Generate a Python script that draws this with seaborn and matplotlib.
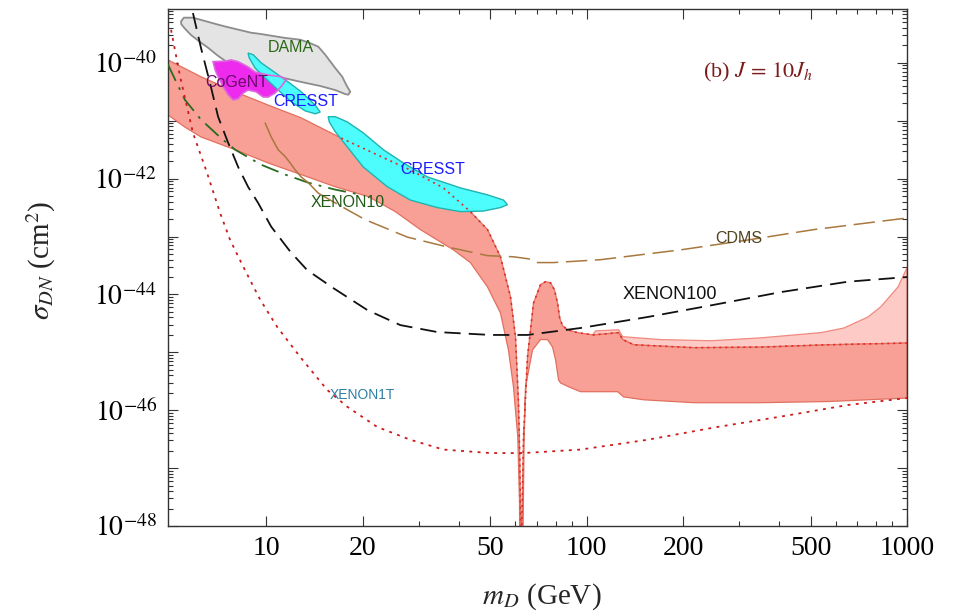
import numpy as np
import pandas as pd
import matplotlib
matplotlib.use("Agg")
import matplotlib.pyplot as plt
import seaborn as sns
from matplotlib.ticker import FixedLocator, FuncFormatter, LogLocator, NullFormatter

# Dark-matter mass m_D in GeV, cross sections stored as log10(sigma_DN / cm^2)

# Allowed band for J = 10 J_h (upper edge left -> right, lower edge right -> left)
band_upper_m = [4.94, 6.26, 8.00, 10.15, 12.86, 17.16, 22.23, 28.18, 35.73, 43.40,
                49.06, 53.86, 57.88, 60.00, 61.32, 61.90, 62.45, 63.56, 65.41, 68.29,
                71.83, 74.47, 77.2, 79.4, 81.19, 82.4, 84.1, 87.24, 93.73, 105.2,
                125.9, 129.6, 140.3, 216.0, 349.9, 566.4, 1000.0]
band_upper_lg = [-39.95, -40.24, -40.50, -40.73, -40.95, -41.30, -41.59, -41.85, -42.16, -42.57,
                 -42.88, -43.35, -44.04, -44.73, -45.87, -46.86, -48.6, -46.46, -45.08, -44.15,
                 -43.83, -43.78, -43.80, -43.92, -44.15, -44.40, -44.54, -44.61, -44.66, -44.70,
                 -44.66, -44.78, -44.87, -44.92, -44.91, -44.87, -44.84]
band_lower_m = [1000.0, 566.4, 349.9, 216.0, 150.7, 130.5, 125.0, 95.79, 89.13, 82.97,
                81.78, 80.03, 78.32, 75.55, 71.83, 67.80, 64.48, 63.8, 63.2, 61.9,
                61.76, 61.0, 59.15, 57.05, 53.86, 49.06, 43.40, 38.41, 34.22, 30.29,
                25.31, 20.84, 16.43, 12.86, 10.15, 8.00, 6.26, 5.58, 4.94]
band_lower_lg = [-45.79, -45.85, -45.87, -45.87, -45.82, -45.77, -45.68, -45.68, -45.61, -45.53,
                 -45.48, -45.13, -44.91, -44.78, -44.78, -44.96, -45.60, -46.60, -48.6, -48.6,
                 -47.60, -46.46, -45.60, -44.96, -44.32, -43.87, -43.45, -43.23, -43.06, -42.88,
                 -42.57, -42.31, -42.14, -41.93, -41.73, -41.50, -41.28, -41.11, -40.90]

# Lighter extension of the band at high mass
pale_upper_m = [104.4, 106.7, 125.9, 129.6, 170.3, 244.1, 349.9, 538.7, 635.7, 755.2,
                829.7, 937.5, 1000.0]
pale_upper_lg = [-44.70, -44.63, -44.61, -44.73, -44.78, -44.80, -44.75, -44.66, -44.58, -44.39,
                 -44.21, -43.87, -43.54]

# Experimental limits
xenon100_m = [5.91, 6.26, 6.68, 7.08, 7.61, 8.18, 8.78, 9.44, 10.37, 11.89, 13.43, 16.20,
              20.69, 26.23, 34.22, 50.12, 65.41, 95.79, 155.1, 249.5, 404.0, 654.3, 1000.0]
xenon100_lg = [-39.14, -39.74, -40.35, -40.93, -41.38, -41.80, -42.14, -42.42, -42.83, -43.26,
               -43.58, -43.89, -44.27, -44.53, -44.65, -44.70, -44.70, -44.58, -44.39, -44.18,
               -43.96, -43.78, -43.70]

xenon1t_m = [5.05, 5.39, 5.91, 6.54, 7.18, 7.72, 8.48, 9.58, 10.82, 12.77, 15.51, 17.91,
             22.23, 28.18, 35.73, 50.12, 63.56, 95.79, 155.1, 249.5, 404.0, 654.3, 1000.0]
xenon1t_lg = [-39.43, -40.24, -41.21, -41.90, -42.59, -43.06, -43.52, -44.09, -44.56, -45.08,
              -45.65, -45.94, -46.29, -46.51, -46.68, -46.74, -46.74, -46.68, -46.51, -46.30,
              -46.11, -45.91, -45.79]

cdms_m = [9.93, 10.37, 10.90, 11.47, 11.89, 12.32, 12.86, 13.53, 14.54, 16.43, 20.39, 27.59,
          36.77, 49.06, 59.15, 66.83, 70.29, 78.88, 110.6, 196.7, 318.6, 512.3, 1000.0]
cdms_lg = [-41.04, -41.28, -41.50, -41.62, -41.73, -41.85, -41.97, -42.07, -42.25, -42.42,
           -42.71, -43.01, -43.18, -43.33, -43.35, -43.39, -43.45, -43.45, -43.40, -43.23,
           -43.06, -42.88, -42.68]

xenon10_m = [4.94, 5.20, 5.58, 6.26, 7.23, 8.00, 9.65, 11.47, 13.53, 16.43, 19.82]
xenon10_lg = [-40.03, -40.29, -40.64, -40.98, -41.30, -41.50, -41.76, -41.93, -42.07, -42.19, -42.28]

# Signal regions
dama_m = [5.43, 5.54, 5.91, 7.08, 7.55, 8.98, 9.58, 11.47, 12.77, 13.72, 14.54, 15.29,
          16.43, 17.28, 17.78, 18.30, 18.04, 17.66, 16.43, 14.75, 12.86, 10.90, 9.58, 8.98,
          8.30, 7.61, 7.08, 6.59, 6.22, 5.83, 5.58, 5.43]
dama_lg = [-39.28, -39.22, -39.22, -39.34, -39.38, -39.48, -39.50, -39.57, -39.60, -39.66,
           -39.72, -39.86, -40.09, -40.24, -40.38, -40.50, -40.55, -40.54, -40.47, -40.40,
           -40.33, -40.24, -40.21, -40.19, -40.12, -40.00, -39.88, -39.74, -39.64, -39.52,
           -39.41, -39.33]

cogent_m = [6.83, 7.50, 7.77, 8.18, 8.78, 9.24, 10.15, 11.14, 11.55, 11.14, 10.67, 10.15,
            9.79, 9.31, 8.78, 8.48, 8.18, 7.89, 7.61, 7.34, 7.08, 6.93]
cogent_lg = [-39.98, -39.97, -39.95, -39.98, -40.07, -40.16, -40.21, -40.24, -40.29, -40.41,
             -40.52, -40.59, -40.59, -40.50, -40.47, -40.52, -40.62, -40.64, -40.55, -40.41,
             -40.24, -40.12]

cresst1_m = [8.78, 9.11, 9.65, 10.67, 11.72, 12.86, 14.23, 14.75, 14.23, 13.24, 11.97, 10.90,
             9.93, 9.24, 8.85]
cresst1_lg = [-39.83, -39.86, -40.00, -40.17, -40.33, -40.50, -40.73, -40.85, -40.88, -40.83,
              -40.67, -40.47, -40.26, -40.09, -39.91]

cresst2_m = [15.62, 16.43, 17.91, 20.10, 23.21, 26.81, 31.85, 40.40, 49.06, 55.03, 56.64,
             53.86, 47.66, 40.40, 34.22, 28.18, 23.89, 20.10, 17.91, 16.43, 15.74]
cresst2_lg = [-40.93, -40.93, -41.02, -41.21, -41.50, -41.73, -41.97, -42.16, -42.28, -42.37,
              -42.45, -42.50, -42.56, -42.57, -42.50, -42.37, -42.14, -41.80, -41.45, -41.19,
              -41.02]

x_major = [10, 20, 50, 100, 200, 500, 1000]
x_minor = [30, 40, 60, 70, 80, 90, 300, 400, 600, 700, 800, 900]


def sig(lg):
    return np.power(10.0, np.asarray(lg, dtype=float))


sns.set_style("ticks")
plt.rcParams["font.family"] = ["Liberation Serif", "DejaVu Serif"]
plt.rcParams["mathtext.fontset"] = "stix"

fig = plt.figure(figsize=(9.55, 6.16), dpi=100)
ax = fig.add_axes([168 / 955, 90 / 616, 739 / 955, 517 / 616])
ax.set_xscale("log")
ax.set_yscale("log")


def curve(m, lg, color, lw, dashes=None, z=4):
    df = pd.DataFrame({"m": m, "sigma": sig(lg)})
    sns.lineplot(data=df, x="m", y="sigma", ax=ax, color=color, lw=lw,
                 estimator=None, sort=False, zorder=z)
    line = ax.lines[-1]
    if dashes is not None:
        line.set_dashes(dashes)
    line.set_dash_capstyle("butt")
    return line


def region(m, lg, face, edge, lw, z):
    ax.fill(m, sig(lg), facecolor=face, edgecolor=edge, lw=lw, zorder=z)


# Allowed band: pale high-mass part first, then the main band
pale_m = pale_upper_m + band_upper_m[-1:-9:-1]
pale_lg = pale_upper_lg + band_upper_lg[-1:-9:-1]
region(pale_m, pale_lg, "#fdcac6", "#f08a80", 0.9, 1)
region(band_upper_m + band_lower_m, band_upper_lg + band_lower_lg, "#f8a096", "#e2705f", 0.9, 2)

# Signal regions
region(dama_m, dama_lg, "#e4e4e4", "#8c8c8c", 1.3, 3)
region(cogent_m, cogent_lg, "#ee2aee", "none", 0, 3)
region(cresst1_m, cresst1_lg, "#4dfcfc", "#1fb3b0", 1.0, 3)
region(cresst2_m, cresst2_lg, "#4dfcfc", "#1fb3b0", 1.0, 3)
ax.fill(cogent_m, sig(cogent_lg), facecolor="none", edgecolor="#dd66dd", lw=1.2, zorder=3.5)

# Dotted upper edge of the band
curve(band_upper_m[5:], band_upper_lg[5:], "#e02a2a", 1.2, dashes=(1.2, 2.4), z=4)

# Limits
curve(xenon10_m, xenon10_lg, "#2a6a1e", 1.3, dashes=(10, 4, 1.5, 4), z=5)
curve(cdms_m[:9], cdms_lg[:9], "#a8783e", 1.1, z=5)
curve(cdms_m[8:], cdms_lg[8:], "#a8783e", 1.1, dashes=(14, 5), z=5)
curve(xenon100_m, xenon100_lg, "#111111", 1.3, dashes=(9, 4.5), z=5)
curve(xenon1t_m, xenon1t_lg, "#cc1a1a", 1.3, dashes=(1.6, 3.0), z=5)

# Labels on the curves and regions
lab = dict(family=["Liberation Sans", "DejaVu Sans"], ha="center", va="center", zorder=6)
ax.text(11.97, sig(-39.74), "DAMA", color="#2b6a16", fontsize=11.5, **lab)
ax.text(8.12, sig(-40.345), "CoGeNT", color="#6a0a6a", fontsize=11.5, **lab)
ax.text(13.3, sig(-40.67), "CRESST", color="#1a1aff", fontsize=11.5, **lab)
ax.text(33.0, sig(-41.85), "CRESST", color="#1a1aff", fontsize=11.5, **lab)
ax.text(18.0, sig(-42.42), "XENON10", color="#1e5a14", fontsize=11.5, **lab)
ax.text(298.0, sig(-43.04), "CDMS", color="#4f4420", fontsize=11.5, **lab)
ax.text(181.5, sig(-44.01), "XENON100", color="#111111", fontsize=13, **lab)
ax.text(19.95, sig(-45.73), "XENON1T", color="#2e7ea6", fontsize=10, **lab)

ax.text(0.724, 0.868, r"(b) $J\,=\,10J_h$", transform=ax.transAxes, color="#7d1a1a",
        fontsize=16, ha="left", va="baseline")

# Axes
ax.set_xlim(4.94, 1000)
ax.set_ylim(1e-48, 10 ** -39.07)
ax.xaxis.set_major_locator(FixedLocator(x_major))
ax.xaxis.set_major_formatter(FuncFormatter(lambda v, p: f"{v:g}"))
ax.xaxis.set_minor_locator(FixedLocator(x_minor))
ax.xaxis.set_minor_formatter(NullFormatter())


def ylab(v, p):
    e = int(round(np.log10(v)))
    return rf"$10^{{{e}}}$" if e % 2 == 0 else ""


ax.yaxis.set_major_locator(FixedLocator(10.0 ** np.arange(-48, -38)))
ax.yaxis.set_major_formatter(FuncFormatter(ylab))
ax.yaxis.set_minor_locator(LogLocator(base=10, subs=np.arange(2, 10), numticks=100))
ax.yaxis.set_minor_formatter(NullFormatter())

ax.tick_params(which="both", direction="in", top=True, right=True, colors="#333333",
               labelcolor="black", width=0.8)
ax.tick_params(which="major", length=7, labelsize=20)
ax.tick_params(which="minor", length=3.5)
ax.tick_params(axis="y", which="major", pad=8)
ax.tick_params(axis="x", which="major", pad=7)
for s in ax.spines.values():
    s.set_color("#333333")
    s.set_linewidth(1.0)
    s.set_visible(True)

ax.set_xlabel(r"$m_D$ (GeV)", fontsize=21)
ax.set_ylabel(r"$\sigma_{DN}$ (cm$^2$)", fontsize=21)
ax.xaxis.set_label_coords(0.506, -0.108)
ax.yaxis.set_label_coords(-0.149, 0.513)

fig.savefig("out.png", dpi=100)
